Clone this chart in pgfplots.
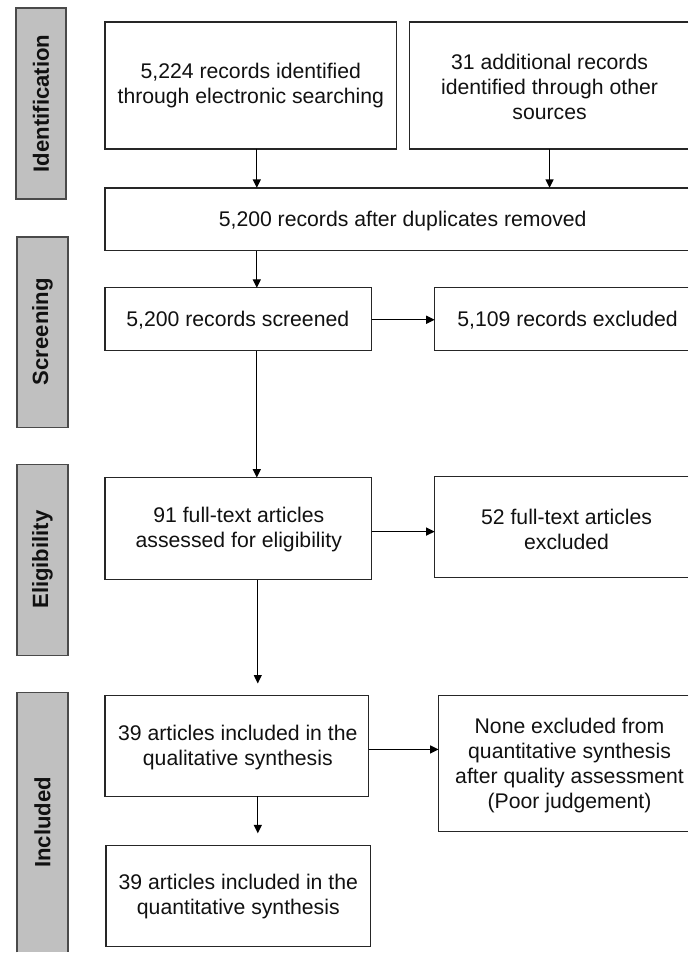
\documentclass[border=0pt]{standalone}
\usepackage{pgfplots}
\pgfplotsset{compat=1.18}
\usepackage{fontspec}
\setmainfont{Liberation Sans}
\usetikzlibrary{arrows.meta}
\definecolor{barfill}{HTML}{C0C0C0}
\definecolor{barline}{HTML}{4A4A4A}
\definecolor{txt}{HTML}{111111}
\begin{document}
\begin{tikzpicture}
\begin{axis}[
  width=689bp, height=953bp, scale only axis,
  xmin=0, xmax=689, ymin=0, ymax=953, y dir=reverse,
  hide axis, clip=false,
]
% background / bounding box
\fill[white] (axis cs:0,0) rectangle (axis cs:689,953);
% side bars
\tikzset{bar/.style={fill=barfill, draw=barline, line width=1.5pt}}
\filldraw[bar] (axis cs:16,8) rectangle (axis cs:66,199);
\filldraw[bar] (axis cs:17,237) rectangle (axis cs:68,428);
\filldraw[bar] (axis cs:17,465) rectangle (axis cs:68,656);
\fill[barfill] (axis cs:17,693) rectangle (axis cs:68,953);
\draw[barline, line width=1.5pt] (axis cs:17,953) -- (axis cs:17,693) -- (axis cs:68,693) -- (axis cs:68,953);
\tikzset{side/.style={rotate=90, text=txt, font=\bfseries\fontsize{22.2}{24}\selectfont}}
\node[side] at (axis cs:41,103.5) {Identification};
\node[side] at (axis cs:42.5,332) {Screening};
\node[side] at (axis cs:42.5,560) {Eligibility};
\node[side] at (axis cs:42.5,823) {Included};
% boxes
\tikzset{box/.style={draw=black!85, line width=1.3pt}}
\draw[box] (axis cs:105,22) rectangle (axis cs:397,149);
\draw[box] (axis cs:689,22) -- (axis cs:410,22) -- (axis cs:410,149) -- (axis cs:689,149);
\draw[box] (axis cs:689,188) -- (axis cs:105,188) -- (axis cs:105,251) -- (axis cs:689,251);
\draw[box] (axis cs:105,288) rectangle (axis cs:372,351);
\draw[box] (axis cs:689,288) -- (axis cs:435,288) -- (axis cs:435,351) -- (axis cs:689,351);
\draw[box] (axis cs:105,478) rectangle (axis cs:372,580);
\draw[box] (axis cs:689,477) -- (axis cs:435,477) -- (axis cs:435,578) -- (axis cs:689,578);
\draw[box] (axis cs:105,696) rectangle (axis cs:369,797);
\draw[box] (axis cs:689,696) -- (axis cs:439,696) -- (axis cs:439,832) -- (axis cs:689,832);
\draw[box] (axis cs:106,846) rectangle (axis cs:371,947);
% arrows
\tikzset{arr/.style={black, line width=1.3pt, -{Triangle[length=8.5pt,width=8pt]}}}
\draw[arr] (axis cs:257,149) -- (axis cs:257,188);
\draw[arr] (axis cs:550,149) -- (axis cs:550,188);
\draw[arr] (axis cs:257,251) -- (axis cs:257,288);
\draw[arr] (axis cs:372,320) -- (axis cs:435,320);
\draw[arr] (axis cs:257,351) -- (axis cs:257,478);
\draw[arr] (axis cs:372,532) -- (axis cs:435,532);
\draw[arr] (axis cs:258,580) -- (axis cs:258,684);
\draw[arr] (axis cs:369,750) -- (axis cs:439,750);
\draw[arr] (axis cs:258,797) -- (axis cs:258,834);
% texts
\tikzset{lbl/.style={align=center, text=txt, inner sep=0pt, font=\fontsize{21.3}{25}\selectfont}}
\node[lbl] at (axis cs:251,86) {5,224 records identified\\through electronic searching};
\node[lbl] at (axis cs:550,87) {31 additional records\\identified through other\\sources};
\node[lbl] at (axis cs:403,221) {5,200 records after duplicates removed};
\node[lbl] at (axis cs:238,320) {5,200 records screened};
\node[lbl] at (axis cs:568,320) {5,109 records excluded};
\node[lbl] at (axis cs:239,530) {91 full-text articles\\assessed for eligibility};
\node[lbl] at (axis cs:567,530) {52 full-text articles\\excluded};
\node[lbl] at (axis cs:238,748) {39 articles included in the\\qualitative synthesis};
\node[lbl] at (axis cs:570,766) {None excluded from\\quantitative synthesis\\after quality assessment\\(Poor judgement)};
\node[lbl] at (axis cs:238.5,897) {39 articles included in the\\quantitative synthesis};
\end{axis}
\end{tikzpicture}
\end{document}
